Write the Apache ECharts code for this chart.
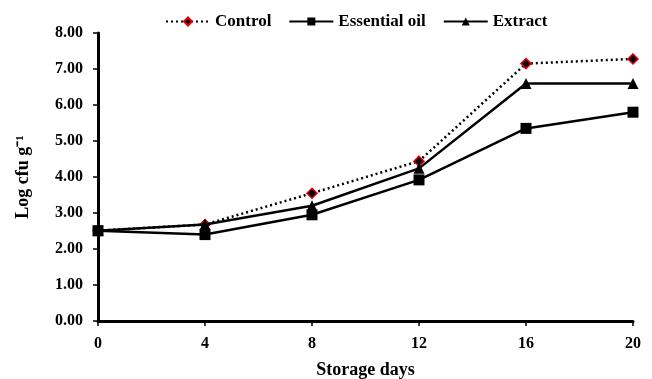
<!DOCTYPE html>
<html>
<head>
<meta charset="utf-8">
<script src="https://cdn.jsdelivr.net/npm/echarts@6/dist/echarts.min.js"></script>
<style>
  html, body { margin: 0; padding: 0; background: #fff; }
  #main { width: 652px; height: 379px; }
</style>
</head>
<body>
<div id="main"></div>
<script>
const days = [0, 4, 8, 12, 16, 20];
const control = [2.51, 2.68, 3.55, 4.44, 7.15, 7.28];
const essentialOil = [2.51, 2.40, 2.95, 3.92, 5.35, 5.80];
const extract = [2.51, 2.68, 3.20, 4.24, 6.60, 6.60];
const yTicks = [0, 1, 2, 3, 4, 5, 6, 7, 8];

const font = "'Liberation Serif', 'Times New Roman', serif";

function pairs(values) {
  return days.map((d, i) => [d, values[i]]);
}

const options = {
  animation: false,
  textStyle: { fontFamily: font },
  legend: {
    top: 8,
    left: 160,
    itemWidth: 44,
    itemHeight: 10,
    itemGap: 17,
    textStyle: { fontFamily: font, fontWeight: "bold", fontSize: 17, color: "#000" },
    data: ["Control", "Essential oil", "Extract"]
  },
  grid: {
    left: 98,
    right: 19,
    top: 33,
    bottom: 58,
    outerBoundsMode: "none"
  },
  xAxis: {
    type: "value",
    min: 0,
    max: 20,
    interval: 4,
    name: "Storage days",
    nameLocation: "middle",
    nameGap: 40,
    nameTextStyle: { fontFamily: font, fontWeight: "bold", fontSize: 18, color: "#000" },
    axisLine: { lineStyle: { color: "#000", width: 3 } },
    axisTick: { show: true, length: 5, lineStyle: { color: "#000", width: 1.5 } },
    axisLabel: { fontFamily: font, fontWeight: "bold", fontSize: 16, color: "#000", margin: 15 },
    splitLine: { show: false }
  },
  yAxis: {
    type: "value",
    min: yTicks[0],
    max: yTicks[yTicks.length - 1],
    interval: 1,
    name: "Log cfu g\u207B\u00B9",
    nameLocation: "middle",
    nameGap: 66,
    nameTextStyle: { fontFamily: font, fontWeight: "bold", fontSize: 18, color: "#000" },
    axisLine: { show: true, lineStyle: { color: "#000", width: 3 } },
    axisTick: { show: true, length: 5, lineStyle: { color: "#000", width: 1.5 } },
    axisLabel: {
      fontFamily: font, fontWeight: "bold", fontSize: 16, color: "#000", margin: 15,
      formatter: (v) => v.toFixed(2)
    },
    splitLine: { show: false }
  },
  series: [
    {
      name: "Control",
      type: "line",
      data: pairs(control),
      symbol: "diamond",
      symbolSize: 10,
      itemStyle: { color: "#000", borderColor: "#e00000", borderWidth: 1.5 },
      lineStyle: { color: "#000", width: 2.5, type: [2, 3] },
      z: 1
    },
    {
      name: "Essential oil",
      type: "line",
      data: pairs(essentialOil),
      symbol: "rect",
      symbolSize: 11,
      itemStyle: { color: "#000" },
      lineStyle: { color: "#000", width: 2.5 },
      z: 3
    },
    {
      name: "Extract",
      type: "line",
      data: pairs(extract),
      symbol: "triangle",
      symbolSize: 11,
      itemStyle: { color: "#000" },
      lineStyle: { color: "#000", width: 2.5 },
      z: 2
    }
  ]
};

var myChart = echarts.init(document.getElementById("main"));
myChart.setOption(options);
</script>
</body>
</html>
